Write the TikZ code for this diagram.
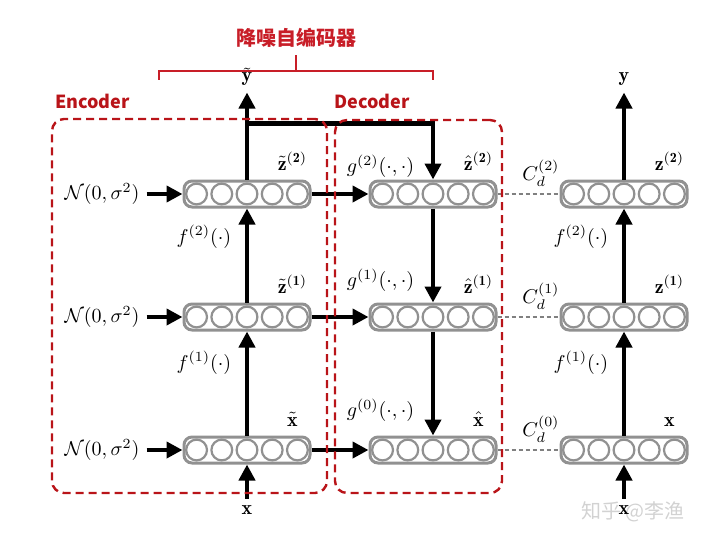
\documentclass[tikz,border=0pt]{standalone}
\usepackage{amsmath}
\usepackage{fontspec}
\newfontfamily\cjk{Noto Sans CJK SC}
\usetikzlibrary{arrows.meta,fit,positioning}
\definecolor{boxgray}{RGB}{145,145,145}
\definecolor{frame}{RGB}{185,20,25}
\definecolor{headred}{RGB}{200,30,40}

\begin{document}
\begin{tikzpicture}[x=0.5pt,y=-0.5pt,
    layer/.style={draw=boxgray, line width=1.5pt, rounded corners=4pt, minimum width=63pt, minimum height=13pt, inner sep=0pt,
                  path picture={\foreach \k in {-2,...,2} \draw[boxgray, line width=1.1pt] ([xshift=\k*12.6pt]path picture bounding box.center) circle (5.2pt);}},
    lab/.style={inner sep=0pt}]
    \tikzstyle{connect}=[-{Triangle[length=8pt,width=8pt]}, line width=2.2pt]
    \tikzstyle{skip}=[draw=gray, line width=0.6pt, dash pattern=on 2pt off 1.5pt]
    \tikzstyle{group}=[draw=frame, line width=1.2pt, dash pattern=on 4pt off 2.5pt, rounded corners=6pt, inner sep=0pt]
    \tikzstyle{grouplabel}=[text=frame, font=\cjk\bfseries\fontsize{9}{11}\selectfont, inner sep=0pt]
    \tikzstyle{bracket}=[draw=headred, line width=0.8pt]

    \useasboundingbox (0,0) rectangle (710,556);

      % watermark
      \node[font=\cjk\fontsize{10}{12}\selectfont, text=gray!35] (mark) at (633,512) {知乎 @李渔};

      % encoder column
      \node[layer] (e3) at (247,450) {};
      \node[layer] (e2) [above=52pt of e3] {};
      \node[layer] (e1) [above=47pt of e2] {};
      % decoder column
      \node[layer] (d1) [right=28.5pt of e1] {};
      \node[layer] (d2) [right=28.5pt of e2] {};
      \node[layer] (d3) [right=28.5pt of e3] {};
      % clean column
      \node[layer] (r1) [right=31pt of d1] {};
      \node[layer] (r2) [right=31pt of d2] {};
      \node[layer] (r3) [right=31pt of d3] {};

      \node[] (n1) [left=18pt of e1] {$\mathcal{N}(0,\sigma^2)$};
      \node[] (n2) [left=18pt of e2] {$\mathcal{N}(0,\sigma^2)$};
      \node[] (n3) [left=18pt of e3] {$\mathcal{N}(0,\sigma^2)$};
      \node[] (xin) [below=17pt of e3] {$\mathbf{x}$};
      \node[] (xr) [below=17pt of r3] {$\mathbf{x}$};
      \node[] (ytl) [above=43.5pt of e1] {$\tilde{\mathbf{y}}$};
      \node[] (yr) [above=43.5pt of r1] {$\mathbf{y}$};
      \coordinate (split) at ([yshift=28pt]e1.north);

      \node[lab, above=4.5pt of e1.north east, xshift=-9.5pt] (zt2) {$\tilde{\mathbf{z}}^{\mathbf{(2)}}$};
      \node[lab, above=4.5pt of e2.north east, xshift=-9.5pt] (zt1) {$\tilde{\mathbf{z}}^{\mathbf{(1)}}$};
      \node[lab, above=4.5pt of e3.north east, xshift=-9.5pt] (xt) {$\tilde{\mathbf{x}}$};
      \node[lab, above=4.5pt of d1.north east, xshift=-9.5pt] (zh2) {$\hat{\mathbf{z}}^{\mathbf{(2)}}$};
      \node[lab, above=4.5pt of d2.north east, xshift=-9.5pt] (zh1) {$\hat{\mathbf{z}}^{\mathbf{(1)}}$};
      \node[lab, above=4.5pt of d3.north east, xshift=-9.5pt] (xh) {$\hat{\mathbf{x}}$};
      \node[lab, above=4.5pt of r1.north east, xshift=-9.5pt] (z2) {$\mathbf{z}^{\mathbf{(2)}}$};
      \node[lab, above=4.5pt of r2.north east, xshift=-9.5pt] (z1) {$\mathbf{z}^{\mathbf{(1)}}$};
      \node[lab, above=4.5pt of r3.north east, xshift=-9.5pt] (xc) {$\mathbf{x}$};

      \path
        (xin) edge [connect] (e3)
        (e3) edge [connect] node[left=3.5pt, pos=0.7] (fe1) {$f^{(1)}(\cdot)$} (e2)
        (e2) edge [connect] node[left=3.5pt, pos=0.7] (fe2) {$f^{(2)}(\cdot)$} (e1)
        (e1) edge [connect] (ytl)
        (n1) edge [connect] (e1)
        (n2) edge [connect] (e2)
        (n3) edge [connect] (e3)
        (e1) edge [connect] (d1)
        (e2) edge [connect] (d2)
        (e3) edge [connect] (d3)
        (d1) edge [connect] node[left=5pt, pos=0.76] (g1) {$g^{(1)}(\cdot,\cdot)$} (d2)
        (d2) edge [connect] node[left=5pt, pos=0.76] (g0) {$g^{(0)}(\cdot,\cdot)$} (d3)
        (d1) edge [skip] node[above, pos=0.7] (c2) {$C_d^{(2)}$} (r1)
        (d2) edge [skip] node[above, pos=0.7] (c1) {$C_d^{(1)}$} (r2)
        (d3) edge [skip] node[above, pos=0.7] (c0) {$C_d^{(0)}$} (r3)
        (xr) edge [connect] (r3)
        (r3) edge [connect] node[left=3.5pt, pos=0.7] (fr1) {$f^{(1)}(\cdot)$} (r2)
        (r2) edge [connect] node[left=3.5pt, pos=0.7] (fr2) {$f^{(2)}(\cdot)$} (r1)
        (r1) edge [connect] (yr);
      \draw[connect] (split) -| node[left=5pt, pos=0.88] (g2) {$g^{(2)}(\cdot,\cdot)$} (d1);

      \node[group, fit={(52,119) (327,493)}] (encbox) {};
      \node[group, fit={(335,120) (502,493)}] (decbox) {};
      \node[grouplabel, above right=4.5pt and 2pt of encbox.north west] (enc) {Encoder};
      \node[grouplabel, above right=5pt and 0pt of decbox.north west] (dec) {Decoder};

      % bracket over both halves
      \coordinate (bl) at (159,80);
      \coordinate (br) at (433,80);
      \coordinate (tick) at (296,55);
      \draw[bracket] (bl) -- (159,71) -- (433,71) -- (br) (296,71) -- (tick);
      \node[font=\cjk\bfseries\fontsize{10}{12}\selectfont, text=headred, above=0pt of tick] (title) {降噪自编码器};
    \end{tikzpicture}
\end{document}
